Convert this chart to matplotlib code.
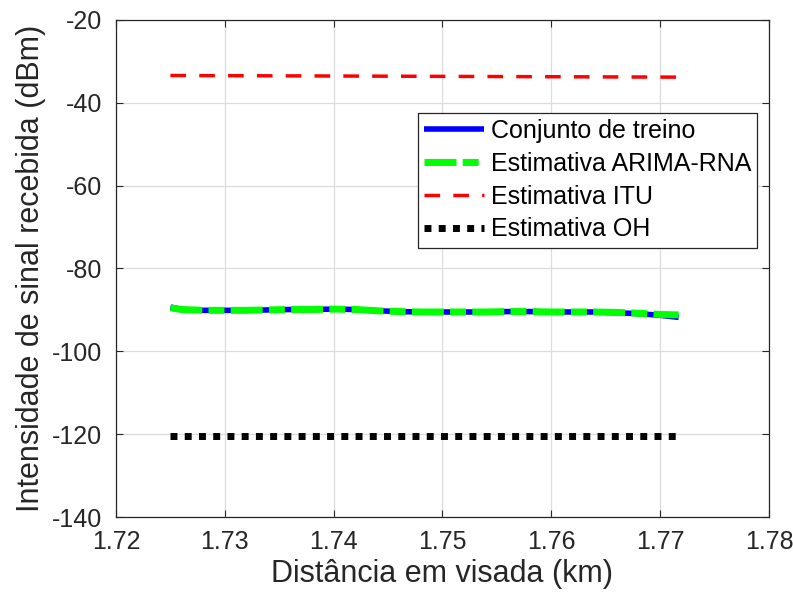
import matplotlib.pyplot as plt

plt.rcParams['font.family'] = ['Liberation Sans', 'DejaVu Sans']
plt.rcParams['axes.unicode_minus'] = False

# distancia (km) e potencia recebida (dBm)
dist = [1.7250, 1.7260, 1.7280, 1.7300, 1.7320, 1.7340, 1.7360, 1.7380,
        1.7400, 1.7420, 1.7440, 1.7460, 1.7480, 1.7500, 1.7520, 1.7540,
        1.7560, 1.7580, 1.7600, 1.7620, 1.7640, 1.7660, 1.7680, 1.7700,
        1.7717]
treino = [-89.3, -89.9, -90.1, -90.1, -90.1, -90.0, -89.9, -89.9,
          -89.8, -89.9, -90.2, -90.4, -90.5, -90.5, -90.5, -90.5,
          -90.4, -90.4, -90.5, -90.5, -90.5, -90.7, -90.9, -91.3,
          -91.8]
arima_rna = [-89.5, -89.9, -90.1, -90.1, -90.1, -90.0, -89.9, -89.9,
             -89.8, -89.9, -90.2, -90.4, -90.5, -90.5, -90.5, -90.5,
             -90.4, -90.4, -90.5, -90.5, -90.5, -90.6, -90.8, -91.1,
             -91.2]
dist_mod = [1.7250, 1.7717]
itu = [-33.4, -33.8]
oh = [-120.5, -120.5]

fig = plt.figure(figsize=(7.93, 6.0), dpi=100)
ax = fig.add_axes([0.1463, 0.1383, 0.8234, 0.8284])

ax.plot(dist, treino, color='b', lw=4.0, label='Conjunto de treino',
        solid_capstyle='butt')
ax.plot(dist, arima_rna, color=(0, 1, 0), lw=5.0, dashes=(4.6, 0.9, 2.3, 0.9),
        label='Estimativa ARIMA-RNA')
ax.plot(dist_mod, itu, color='r', lw=2.5, dashes=(4.5, 3.8),
        label='Estimativa ITU')
ax.plot(dist_mod, oh, color='k', lw=5.0, dashes=(1.0, 1.05),
        label='Estimativa OH')

ax.set_xlim(1.72, 1.78)
ax.set_ylim(-140, -20)
ax.set_xticks([1.72, 1.73, 1.74, 1.75, 1.76, 1.77, 1.78])
ax.set_xticklabels(['1.72', '1.73', '1.74', '1.75', '1.76', '1.77', '1.78'])
ax.set_yticks(range(-140, -19, 20))

ax.grid(True, color='#dcdcdc', lw=0.9)
ax.set_axisbelow(True)
ax.tick_params(direction='in', length=5, width=0.8, labelsize=18,
               colors='#262626', top=True, right=True, pad=10)
ax.tick_params(axis='x', pad=9)
for s in ax.spines.values():
    s.set_color('#262626')
    s.set_linewidth(0.9)

ax.set_xlabel('Distância em visada (km)', fontsize=22, color='#262626',
              labelpad=4)
ax.set_ylabel('Intensidade de sinal recebida (dBm)', fontsize=22,
              color='#262626', labelpad=4)

leg = ax.legend(loc='upper right', bbox_to_anchor=(0.982, 0.813),
                borderaxespad=0, fontsize=18, handlelength=2.4,
                handletextpad=0.25, labelspacing=0.35, borderpad=0.25,
                fancybox=False, framealpha=1, edgecolor='#262626')
leg.get_frame().set_linewidth(0.9)

fig.savefig('out.png', dpi=100)
